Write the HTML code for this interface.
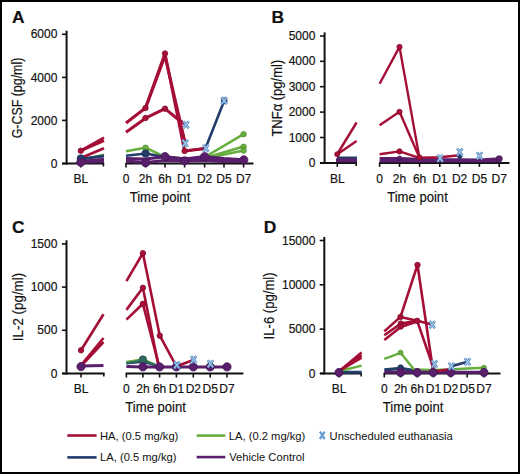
<!DOCTYPE html>
<html><head><meta charset="utf-8"><style>
html,body{margin:0;padding:0;background:#fff;}
body{width:520px;height:474px;overflow:hidden;}
svg{display:block;font-family:"Liberation Sans",sans-serif;}
text{fill:#111;stroke:#111;stroke-width:0.18px;}
</style></head><body>
<svg width="520" height="474" viewBox="0 0 520 474">
<rect x="0" y="0" width="520" height="474" fill="#fff"/>
<line x1="66.6" y1="164.5" x2="66.6" y2="30.7" stroke="#111" stroke-width="2"/>
<line x1="62" y1="163.5" x2="66.6" y2="163.5" stroke="#111" stroke-width="1.6"/>
<line x1="62" y1="120.4" x2="66.6" y2="120.4" stroke="#111" stroke-width="1.6"/>
<line x1="62" y1="77.4" x2="66.6" y2="77.4" stroke="#111" stroke-width="1.6"/>
<line x1="62" y1="34.3" x2="66.6" y2="34.3" stroke="#111" stroke-width="1.6"/>
<line x1="62" y1="163.5" x2="104.2" y2="163.5" stroke="#111" stroke-width="2"/>
<line x1="80.8" y1="163.5" x2="80.8" y2="167.5" stroke="#111" stroke-width="1.6"/>
<line x1="103.4" y1="163.5" x2="103.4" y2="166.5" stroke="#111" stroke-width="1.6"/>
<line x1="125.4" y1="163.5" x2="253.5" y2="163.5" stroke="#111" stroke-width="2"/>
<line x1="126" y1="163.5" x2="126" y2="167.5" stroke="#111" stroke-width="1.6"/>
<line x1="145.5" y1="163.5" x2="145.5" y2="167.5" stroke="#111" stroke-width="1.6"/>
<line x1="165" y1="163.5" x2="165" y2="167.5" stroke="#111" stroke-width="1.6"/>
<line x1="184.6" y1="163.5" x2="184.6" y2="167.5" stroke="#111" stroke-width="1.6"/>
<line x1="204.6" y1="163.5" x2="204.6" y2="167.5" stroke="#111" stroke-width="1.6"/>
<line x1="224" y1="163.5" x2="224" y2="167.5" stroke="#111" stroke-width="1.6"/>
<line x1="243.6" y1="163.5" x2="243.6" y2="167.5" stroke="#111" stroke-width="1.6"/>
<line x1="324.6" y1="163.9" x2="324.6" y2="32.4" stroke="#111" stroke-width="2"/>
<line x1="320" y1="162.9" x2="324.6" y2="162.9" stroke="#111" stroke-width="1.6"/>
<line x1="320" y1="137.5" x2="324.6" y2="137.5" stroke="#111" stroke-width="1.6"/>
<line x1="320" y1="112.1" x2="324.6" y2="112.1" stroke="#111" stroke-width="1.6"/>
<line x1="320" y1="86.7" x2="324.6" y2="86.7" stroke="#111" stroke-width="1.6"/>
<line x1="320" y1="61.3" x2="324.6" y2="61.3" stroke="#111" stroke-width="1.6"/>
<line x1="320" y1="36" x2="324.6" y2="36" stroke="#111" stroke-width="1.6"/>
<line x1="320" y1="162.9" x2="357" y2="162.9" stroke="#111" stroke-width="2"/>
<line x1="337.3" y1="162.9" x2="337.3" y2="166.9" stroke="#111" stroke-width="1.6"/>
<line x1="356.2" y1="162.9" x2="356.2" y2="165.9" stroke="#111" stroke-width="1.6"/>
<line x1="379" y1="162.9" x2="509.5" y2="162.9" stroke="#111" stroke-width="2"/>
<line x1="379.6" y1="162.9" x2="379.6" y2="166.9" stroke="#111" stroke-width="1.6"/>
<line x1="399.5" y1="162.9" x2="399.5" y2="166.9" stroke="#111" stroke-width="1.6"/>
<line x1="419.6" y1="162.9" x2="419.6" y2="166.9" stroke="#111" stroke-width="1.6"/>
<line x1="439.8" y1="162.9" x2="439.8" y2="166.9" stroke="#111" stroke-width="1.6"/>
<line x1="459.6" y1="162.9" x2="459.6" y2="166.9" stroke="#111" stroke-width="1.6"/>
<line x1="479.4" y1="162.9" x2="479.4" y2="166.9" stroke="#111" stroke-width="1.6"/>
<line x1="499.2" y1="162.9" x2="499.2" y2="166.9" stroke="#111" stroke-width="1.6"/>
<line x1="66.5" y1="374.5" x2="66.5" y2="240.3" stroke="#111" stroke-width="2"/>
<line x1="61.9" y1="373.5" x2="66.5" y2="373.5" stroke="#111" stroke-width="1.6"/>
<line x1="61.9" y1="330.3" x2="66.5" y2="330.3" stroke="#111" stroke-width="1.6"/>
<line x1="61.9" y1="287.1" x2="66.5" y2="287.1" stroke="#111" stroke-width="1.6"/>
<line x1="61.9" y1="243.9" x2="66.5" y2="243.9" stroke="#111" stroke-width="1.6"/>
<line x1="62" y1="373.5" x2="104.6" y2="373.5" stroke="#111" stroke-width="2"/>
<line x1="81" y1="373.5" x2="81" y2="377.5" stroke="#111" stroke-width="1.6"/>
<line x1="103.8" y1="373.5" x2="103.8" y2="376.5" stroke="#111" stroke-width="1.6"/>
<line x1="125.6" y1="373.5" x2="243.4" y2="373.5" stroke="#111" stroke-width="2"/>
<line x1="126.4" y1="373.5" x2="126.4" y2="377.5" stroke="#111" stroke-width="1.6"/>
<line x1="142.9" y1="373.5" x2="142.9" y2="377.5" stroke="#111" stroke-width="1.6"/>
<line x1="159.6" y1="373.5" x2="159.6" y2="377.5" stroke="#111" stroke-width="1.6"/>
<line x1="176.4" y1="373.5" x2="176.4" y2="377.5" stroke="#111" stroke-width="1.6"/>
<line x1="193.3" y1="373.5" x2="193.3" y2="377.5" stroke="#111" stroke-width="1.6"/>
<line x1="210.2" y1="373.5" x2="210.2" y2="377.5" stroke="#111" stroke-width="1.6"/>
<line x1="227" y1="373.5" x2="227" y2="377.5" stroke="#111" stroke-width="1.6"/>
<line x1="324.3" y1="374.4" x2="324.3" y2="236.9" stroke="#111" stroke-width="2"/>
<line x1="319.7" y1="373.4" x2="324.3" y2="373.4" stroke="#111" stroke-width="1.6"/>
<line x1="319.7" y1="329.1" x2="324.3" y2="329.1" stroke="#111" stroke-width="1.6"/>
<line x1="319.7" y1="284.8" x2="324.3" y2="284.8" stroke="#111" stroke-width="1.6"/>
<line x1="319.7" y1="240.5" x2="324.3" y2="240.5" stroke="#111" stroke-width="1.6"/>
<line x1="320" y1="373.4" x2="362" y2="373.4" stroke="#111" stroke-width="2"/>
<line x1="339" y1="373.4" x2="339" y2="377.4" stroke="#111" stroke-width="1.6"/>
<line x1="361.2" y1="373.4" x2="361.2" y2="376.4" stroke="#111" stroke-width="1.6"/>
<line x1="383.6" y1="373.4" x2="500.5" y2="373.4" stroke="#111" stroke-width="2"/>
<line x1="384.3" y1="373.4" x2="384.3" y2="377.4" stroke="#111" stroke-width="1.6"/>
<line x1="400.6" y1="373.4" x2="400.6" y2="377.4" stroke="#111" stroke-width="1.6"/>
<line x1="417.2" y1="373.4" x2="417.2" y2="377.4" stroke="#111" stroke-width="1.6"/>
<line x1="433.4" y1="373.4" x2="433.4" y2="377.4" stroke="#111" stroke-width="1.6"/>
<line x1="450.6" y1="373.4" x2="450.6" y2="377.4" stroke="#111" stroke-width="1.6"/>
<line x1="467.2" y1="373.4" x2="467.2" y2="377.4" stroke="#111" stroke-width="1.6"/>
<line x1="484" y1="373.4" x2="484" y2="377.4" stroke="#111" stroke-width="1.6"/>
<polyline points="80.8,160 104,154.6" fill="none" stroke="#66ae3e" stroke-width="2.2" stroke-linejoin="round" stroke-linecap="butt"/>
<polyline points="80.8,159 104,156" fill="none" stroke="#233c6a" stroke-width="3" stroke-linejoin="round" stroke-linecap="butt"/>
<polyline points="80.8,161.5 104,159.3" fill="none" stroke="#5a1f6c" stroke-width="3" stroke-linejoin="round" stroke-linecap="butt"/>
<polyline points="80.8,162.3 104,161.6" fill="none" stroke="#5a1f6c" stroke-width="3" stroke-linejoin="round" stroke-linecap="butt"/>
<polyline points="80.8,150.8 104,137.6" fill="none" stroke="#a50e36" stroke-width="2.8" stroke-linejoin="round" stroke-linecap="butt"/>
<polyline points="80.8,150.8 104,140.6" fill="none" stroke="#a50e36" stroke-width="2.8" stroke-linejoin="round" stroke-linecap="butt"/>
<polyline points="82,157.5 104,148.3" fill="none" stroke="#a50e36" stroke-width="2.8" stroke-linejoin="round" stroke-linecap="butt"/>
<polyline points="126,151.2 145.6,147.7 165,157 184.6,160 205,157" fill="none" stroke="#66ae3e" stroke-width="2.6" stroke-linejoin="round" stroke-linecap="butt"/>
<polyline points="205,157 243.6,134.2" fill="none" stroke="#66ae3e" stroke-width="2.6" stroke-linejoin="round" stroke-linecap="butt"/>
<polyline points="205,158 243.6,146.6" fill="none" stroke="#66ae3e" stroke-width="2.6" stroke-linejoin="round" stroke-linecap="butt"/>
<polyline points="205,158.5 243.6,150.5" fill="none" stroke="#66ae3e" stroke-width="2.6" stroke-linejoin="round" stroke-linecap="butt"/>
<polyline points="126,155.8 145.6,153.5 165,157 184.6,158.5 204.6,158" fill="none" stroke="#233c6a" stroke-width="2.6" stroke-linejoin="round" stroke-linecap="butt"/>
<polyline points="184.6,151 205.5,148.2 224.2,100.7" fill="none" stroke="#233c6a" stroke-width="2.6" stroke-linejoin="round" stroke-linecap="butt"/>
<polyline points="126,158.7 145.6,159 165,156.6 184.6,159 204.6,156.6 224,158.5 243.6,159.9" fill="none" stroke="#5a1f6c" stroke-width="3.2" stroke-linejoin="round" stroke-linecap="butt"/>
<polyline points="126,161.2 145.6,162.5 165,160.5 184.6,161 204.6,160.5 224,161.5 243.6,161.5" fill="none" stroke="#5a1f6c" stroke-width="3.2" stroke-linejoin="round" stroke-linecap="butt"/>
<polyline points="165,158.5 184.6,160 204.6,158.5 224,159.8 243.6,160.5" fill="none" stroke="#5a1f6c" stroke-width="3.2" stroke-linejoin="round" stroke-linecap="butt"/>
<polyline points="126,123 145.5,108 165,53.5 184.6,151 205.5,148.5" fill="none" stroke="#a50e36" stroke-width="3" stroke-linejoin="round" stroke-linecap="butt"/>
<polyline points="126,132.3 145.5,118.2 165,108.7 177,118.5 186,124.7" fill="none" stroke="#a50e36" stroke-width="3" stroke-linejoin="round" stroke-linecap="butt"/>
<polyline points="145.5,108 165,56 185.2,143.2" fill="none" stroke="#a50e36" stroke-width="3" stroke-linejoin="round" stroke-linecap="butt"/>
<polyline points="337,158 357,158" fill="none" stroke="#233c6a" stroke-width="3" stroke-linejoin="round" stroke-linecap="butt"/>
<polyline points="336,160.3 357,160.3" fill="none" stroke="#5a1f6c" stroke-width="4" stroke-linejoin="round" stroke-linecap="butt"/>
<polyline points="337,154.5 356.6,122.5" fill="none" stroke="#a50e36" stroke-width="2.4" stroke-linejoin="round" stroke-linecap="butt"/>
<polyline points="337,154.5 356.6,141.1" fill="none" stroke="#a50e36" stroke-width="2.4" stroke-linejoin="round" stroke-linecap="butt"/>
<polyline points="379.6,158.8 399.5,158.6 419.6,159.5 439.8,160 459.6,160 479.4,160.2 499.2,159" fill="none" stroke="#5a1f6c" stroke-width="3.4" stroke-linejoin="round" stroke-linecap="butt"/>
<polyline points="379.6,161.3 499.2,161.3" fill="none" stroke="#5a1f6c" stroke-width="2.6" stroke-linejoin="round" stroke-linecap="butt"/>
<polyline points="379.6,83.7 399.5,46.9 419.4,157.6 439.8,157.3 459.6,155.2" fill="none" stroke="#a50e36" stroke-width="2.4" stroke-linejoin="round" stroke-linecap="butt"/>
<polyline points="379.6,125.3 399.5,111.8 419.4,157.6" fill="none" stroke="#a50e36" stroke-width="2.4" stroke-linejoin="round" stroke-linecap="butt"/>
<polyline points="379.6,154.2 399.5,151.4 419.4,157.8" fill="none" stroke="#a50e36" stroke-width="2.4" stroke-linejoin="round" stroke-linecap="butt"/>
<polyline points="81,366 103.5,365.5" fill="none" stroke="#5a1f6c" stroke-width="3" stroke-linejoin="round" stroke-linecap="butt"/>
<polyline points="81,350.3 103.5,314.3" fill="none" stroke="#a50e36" stroke-width="2.6" stroke-linejoin="round" stroke-linecap="butt"/>
<polyline points="82,364 103.5,338" fill="none" stroke="#a50e36" stroke-width="2.6" stroke-linejoin="round" stroke-linecap="butt"/>
<polyline points="82,365 103.5,342" fill="none" stroke="#a50e36" stroke-width="2.6" stroke-linejoin="round" stroke-linecap="butt"/>
<polyline points="126.4,363 142.9,361.5 159.6,366.5" fill="none" stroke="#233c6a" stroke-width="2.8" stroke-linejoin="round" stroke-linecap="butt"/>
<polyline points="126.4,362 142.9,359.4 159.6,366.5" fill="none" stroke="#66ae3e" stroke-width="2.4" stroke-linejoin="round" stroke-linecap="butt"/>
<polyline points="126.4,363.2 142.9,360.5 159.6,366.5" fill="none" stroke="#2f6a62" stroke-width="2.2" stroke-linejoin="round" stroke-linecap="butt"/>
<polyline points="126.4,366.4 142.9,366.9 159.6,366.9 176.4,366.9 193.3,366.9 210.2,366.9 227,366.9" fill="none" stroke="#5a1f6c" stroke-width="3" stroke-linejoin="round" stroke-linecap="butt"/>
<polyline points="126.4,281.2 142.9,253.2 159.8,335.7 176.4,366.3 193.6,360" fill="none" stroke="#a50e36" stroke-width="2.6" stroke-linejoin="round" stroke-linecap="butt"/>
<polyline points="126.4,309.9 142.9,287.8 158.6,366.3" fill="none" stroke="#a50e36" stroke-width="2.6" stroke-linejoin="round" stroke-linecap="butt"/>
<polyline points="126.4,319.6 142.9,303.8 159.2,366.3" fill="none" stroke="#a50e36" stroke-width="2.6" stroke-linejoin="round" stroke-linecap="butt"/>
<polyline points="339,372.3 361.6,372.2" fill="none" stroke="#233c6a" stroke-width="3" stroke-linejoin="round" stroke-linecap="butt"/>
<polyline points="340,371 361.6,365.7" fill="none" stroke="#66ae3e" stroke-width="2.4" stroke-linejoin="round" stroke-linecap="butt"/>
<polyline points="340,370.5 361.6,352.6" fill="none" stroke="#a50e36" stroke-width="2.6" stroke-linejoin="round" stroke-linecap="butt"/>
<polyline points="340,370.5 361.6,355.2" fill="none" stroke="#a50e36" stroke-width="2.6" stroke-linejoin="round" stroke-linecap="butt"/>
<polyline points="340,370.5 361.6,357.6" fill="none" stroke="#a50e36" stroke-width="2.6" stroke-linejoin="round" stroke-linecap="butt"/>
<polyline points="384.3,369.8 400.6,368.4 417.2,371 433.4,371.2 450.6,371.5" fill="none" stroke="#233c6a" stroke-width="3.2" stroke-linejoin="round" stroke-linecap="butt"/>
<polyline points="451.4,366.2 467.5,361.8" fill="none" stroke="#233c6a" stroke-width="2.6" stroke-linejoin="round" stroke-linecap="butt"/>
<polyline points="384.3,358.8 400.6,352.8 414,369.5 433.4,370 450.6,369.5 467.2,368.5 484,367.7" fill="none" stroke="#66ae3e" stroke-width="2.4" stroke-linejoin="round" stroke-linecap="butt"/>
<polyline points="384.3,372.3 484,372.3" fill="none" stroke="#5a1f6c" stroke-width="3" stroke-linejoin="round" stroke-linecap="butt"/>
<polyline points="384.3,331.4 400.5,316.9 417.5,264.9 433.2,371.5 451.4,369.1" fill="none" stroke="#a50e36" stroke-width="2.6" stroke-linejoin="round" stroke-linecap="butt"/>
<polyline points="400.5,316.9 417.2,320.8 432.2,324.6" fill="none" stroke="#a50e36" stroke-width="2.6" stroke-linejoin="round" stroke-linecap="butt"/>
<polyline points="384.3,335.2 400.8,323.6 417.2,320.8 433.5,368" fill="none" stroke="#a50e36" stroke-width="2.6" stroke-linejoin="round" stroke-linecap="butt"/>
<polyline points="384.3,340 400.8,327 417.2,321.5" fill="none" stroke="#a50e36" stroke-width="2.6" stroke-linejoin="round" stroke-linecap="butt"/>
<circle cx="80.8" cy="150.8" r="2.75" fill="#ab0f38" stroke="#760826" stroke-width="0.7"/>
<circle cx="80.8" cy="158.5" r="3.75" fill="#233c6a" stroke="#182c52" stroke-width="0.7"/>
<circle cx="80.8" cy="162.3" r="4.15" fill="#5a1f6c" stroke="#3f1350" stroke-width="0.7"/>
<circle cx="145.5" cy="108" r="2.75" fill="#ab0f38" stroke="#760826" stroke-width="0.7"/>
<circle cx="145.5" cy="118" r="2.75" fill="#ab0f38" stroke="#760826" stroke-width="0.7"/>
<circle cx="165" cy="53.5" r="2.75" fill="#ab0f38" stroke="#760826" stroke-width="0.7"/>
<circle cx="165" cy="108.7" r="2.75" fill="#ab0f38" stroke="#760826" stroke-width="0.7"/>
<circle cx="184.6" cy="151" r="2.75" fill="#ab0f38" stroke="#760826" stroke-width="0.7"/>
<circle cx="145.6" cy="147.7" r="2.75" fill="#66ae3e" stroke="#4b8a2c" stroke-width="0.7"/>
<circle cx="243.6" cy="134.2" r="2.75" fill="#66ae3e" stroke="#4b8a2c" stroke-width="0.7"/>
<circle cx="243.6" cy="146.8" r="2.75" fill="#66ae3e" stroke="#4b8a2c" stroke-width="0.7"/>
<circle cx="243.6" cy="150.5" r="2.75" fill="#66ae3e" stroke="#4b8a2c" stroke-width="0.7"/>
<circle cx="145.6" cy="153.5" r="3.75" fill="#233c6a" stroke="#182c52" stroke-width="0.7"/>
<circle cx="224.2" cy="100.7" r="2.95" fill="#233c6a" stroke="#182c52" stroke-width="0.7"/>
<circle cx="145.6" cy="162.7" r="4.15" fill="#5a1f6c" stroke="#3f1350" stroke-width="0.7"/>
<circle cx="165" cy="156.6" r="4.15" fill="#5a1f6c" stroke="#3f1350" stroke-width="0.7"/>
<circle cx="184.6" cy="160.8" r="4.15" fill="#5a1f6c" stroke="#3f1350" stroke-width="0.7"/>
<circle cx="204.6" cy="156.6" r="4.15" fill="#5a1f6c" stroke="#3f1350" stroke-width="0.7"/>
<circle cx="243.8" cy="159.9" r="4.15" fill="#5a1f6c" stroke="#3f1350" stroke-width="0.7"/>
<circle cx="337.2" cy="154.2" r="2.55" fill="#ab0f38" stroke="#760826" stroke-width="0.7"/>
<circle cx="399.5" cy="46.9" r="2.65" fill="#ab0f38" stroke="#760826" stroke-width="0.7"/>
<circle cx="399.5" cy="111.8" r="2.65" fill="#ab0f38" stroke="#760826" stroke-width="0.7"/>
<circle cx="399.5" cy="151.4" r="2.65" fill="#ab0f38" stroke="#760826" stroke-width="0.7"/>
<circle cx="419.4" cy="157.4" r="2.65" fill="#ab0f38" stroke="#760826" stroke-width="0.7"/>
<circle cx="499.2" cy="158.8" r="3.15" fill="#5a1f6c" stroke="#3f1350" stroke-width="0.7"/>
<circle cx="459.8" cy="156.3" r="2.25" fill="#233c6a" stroke="#182c52" stroke-width="0.7"/>
<circle cx="399.6" cy="158.2" r="2.25" fill="#5a1f6c" stroke="#3f1350" stroke-width="0.7"/>
<circle cx="81" cy="350.3" r="2.75" fill="#ab0f38" stroke="#760826" stroke-width="0.7"/>
<circle cx="81" cy="366.6" r="4.15" fill="#5a1f6c" stroke="#3f1350" stroke-width="0.7"/>
<circle cx="142.9" cy="253.2" r="2.75" fill="#ab0f38" stroke="#760826" stroke-width="0.7"/>
<circle cx="142.9" cy="287.8" r="2.75" fill="#ab0f38" stroke="#760826" stroke-width="0.7"/>
<circle cx="142.9" cy="303.8" r="2.75" fill="#ab0f38" stroke="#760826" stroke-width="0.7"/>
<circle cx="159.8" cy="335.7" r="2.75" fill="#ab0f38" stroke="#760826" stroke-width="0.7"/>
<circle cx="142.9" cy="359.6" r="3.75" fill="#2f6a62" stroke="#1f4d46" stroke-width="0.7"/>
<circle cx="142.9" cy="366.9" r="4.15" fill="#5a1f6c" stroke="#3f1350" stroke-width="0.7"/>
<circle cx="159.6" cy="366.9" r="4.15" fill="#5a1f6c" stroke="#3f1350" stroke-width="0.7"/>
<circle cx="176.4" cy="366.9" r="4.15" fill="#5a1f6c" stroke="#3f1350" stroke-width="0.7"/>
<circle cx="193.3" cy="366.9" r="4.15" fill="#5a1f6c" stroke="#3f1350" stroke-width="0.7"/>
<circle cx="210.2" cy="366.9" r="4.15" fill="#5a1f6c" stroke="#3f1350" stroke-width="0.7"/>
<circle cx="227" cy="366.9" r="4.15" fill="#5a1f6c" stroke="#3f1350" stroke-width="0.7"/>
<circle cx="339" cy="372.5" r="4.15" fill="#5a1f6c" stroke="#3f1350" stroke-width="0.7"/>
<circle cx="400.5" cy="316.9" r="2.75" fill="#ab0f38" stroke="#760826" stroke-width="0.7"/>
<circle cx="400.8" cy="323.6" r="2.75" fill="#ab0f38" stroke="#760826" stroke-width="0.7"/>
<circle cx="400.8" cy="326.5" r="2.75" fill="#ab0f38" stroke="#760826" stroke-width="0.7"/>
<circle cx="417.5" cy="264.9" r="2.75" fill="#ab0f38" stroke="#760826" stroke-width="0.7"/>
<circle cx="417.2" cy="320.8" r="2.75" fill="#ab0f38" stroke="#760826" stroke-width="0.7"/>
<circle cx="400.6" cy="352.6" r="2.45" fill="#66ae3e" stroke="#4b8a2c" stroke-width="0.7"/>
<circle cx="484" cy="367.7" r="2.45" fill="#66ae3e" stroke="#4b8a2c" stroke-width="0.7"/>
<circle cx="400.6" cy="367.6" r="2.85" fill="#233c6a" stroke="#182c52" stroke-width="0.7"/>
<circle cx="400.6" cy="372.5" r="4.15" fill="#5a1f6c" stroke="#3f1350" stroke-width="0.7"/>
<circle cx="417.2" cy="372.5" r="4.15" fill="#5a1f6c" stroke="#3f1350" stroke-width="0.7"/>
<circle cx="433.2" cy="372.5" r="4.15" fill="#5a1f6c" stroke="#3f1350" stroke-width="0.7"/>
<circle cx="450.8" cy="372.5" r="4.15" fill="#5a1f6c" stroke="#3f1350" stroke-width="0.7"/>
<circle cx="484" cy="372.5" r="4.15" fill="#5a1f6c" stroke="#3f1350" stroke-width="0.7"/>
<path d="M183.3,121.2L188.7,128.2M188.7,121.2L183.3,128.2" stroke="#5587bc" stroke-width="2.7" fill="none"/><path d="M183.3,121.2L188.7,128.2M188.7,121.2L183.3,128.2" stroke="#a2c9ea" stroke-width="1.1" fill="none"/>
<path d="M182.5,139.7L187.9,146.7M187.9,139.7L182.5,146.7" stroke="#5587bc" stroke-width="2.7" fill="none"/><path d="M182.5,139.7L187.9,146.7M187.9,139.7L182.5,146.7" stroke="#a2c9ea" stroke-width="1.1" fill="none"/>
<path d="M203.1,144.7L208.5,151.7M208.5,144.7L203.1,151.7" stroke="#5587bc" stroke-width="2.7" fill="none"/><path d="M203.1,144.7L208.5,151.7M208.5,144.7L203.1,151.7" stroke="#a2c9ea" stroke-width="1.1" fill="none"/>
<path d="M221.5,97.1L226.9,104.1M226.9,97.1L221.5,104.1" stroke="#5587bc" stroke-width="2.7" fill="none"/><path d="M221.5,97.1L226.9,104.1M226.9,97.1L221.5,104.1" stroke="#a2c9ea" stroke-width="1.1" fill="none"/>
<path d="M437.4,154.8L442.8,161.8M442.8,154.8L437.4,161.8" stroke="#5587bc" stroke-width="2.7" fill="none"/><path d="M437.4,154.8L442.8,161.8M442.8,154.8L437.4,161.8" stroke="#a2c9ea" stroke-width="1.1" fill="none"/>
<path d="M457.1,148.5L462.5,155.5M462.5,148.5L457.1,155.5" stroke="#5587bc" stroke-width="2.7" fill="none"/><path d="M457.1,148.5L462.5,155.5M462.5,148.5L457.1,155.5" stroke="#a2c9ea" stroke-width="1.1" fill="none"/>
<path d="M476.9,152.3L482.3,159.3M482.3,152.3L476.9,159.3" stroke="#5587bc" stroke-width="2.7" fill="none"/><path d="M476.9,152.3L482.3,159.3M482.3,152.3L476.9,159.3" stroke="#a2c9ea" stroke-width="1.1" fill="none"/>
<path d="M174.2,361.5L179.6,368.5M179.6,361.5L174.2,368.5" stroke="#5587bc" stroke-width="2.7" fill="none"/><path d="M174.2,361.5L179.6,368.5M179.6,361.5L174.2,368.5" stroke="#a2c9ea" stroke-width="1.1" fill="none"/>
<path d="M190.9,356.1L196.3,363.1M196.3,356.1L190.9,363.1" stroke="#5587bc" stroke-width="2.7" fill="none"/><path d="M190.9,356.1L196.3,363.1M196.3,356.1L190.9,363.1" stroke="#a2c9ea" stroke-width="1.1" fill="none"/>
<path d="M207.8,360.3L213.2,367.3M213.2,360.3L207.8,367.3" stroke="#5587bc" stroke-width="2.7" fill="none"/><path d="M207.8,360.3L213.2,367.3M213.2,360.3L207.8,367.3" stroke="#a2c9ea" stroke-width="1.1" fill="none"/>
<path d="M429.5,321.1L434.9,328.1M434.9,321.1L429.5,328.1" stroke="#5587bc" stroke-width="2.7" fill="none"/><path d="M429.5,321.1L434.9,328.1M434.9,321.1L429.5,328.1" stroke="#a2c9ea" stroke-width="1.1" fill="none"/>
<path d="M431.7,360.5L437.1,367.5M437.1,360.5L431.7,367.5" stroke="#5587bc" stroke-width="2.7" fill="none"/><path d="M431.7,360.5L437.1,367.5M437.1,360.5L431.7,367.5" stroke="#a2c9ea" stroke-width="1.1" fill="none"/>
<path d="M448.7,362.7L454.1,369.7M454.1,362.7L448.7,369.7" stroke="#5587bc" stroke-width="2.7" fill="none"/><path d="M448.7,362.7L454.1,369.7M454.1,362.7L448.7,369.7" stroke="#a2c9ea" stroke-width="1.1" fill="none"/>
<path d="M464.8,358.3L470.2,365.3M470.2,358.3L464.8,365.3" stroke="#5587bc" stroke-width="2.7" fill="none"/><path d="M464.8,358.3L470.2,365.3M470.2,358.3L464.8,365.3" stroke="#a2c9ea" stroke-width="1.1" fill="none"/>
<text x="57.4" y="167.6" font-size="12" text-anchor="end" font-weight="normal" >0</text>
<text x="57.4" y="124.5" font-size="12" text-anchor="end" font-weight="normal" >2000</text>
<text x="57.4" y="81.5" font-size="12" text-anchor="end" font-weight="normal" >4000</text>
<text x="57.4" y="38.4" font-size="12" text-anchor="end" font-weight="normal" >6000</text>
<text x="80.8" y="182.7" font-size="12" text-anchor="middle" font-weight="normal" >BL</text>
<text x="126" y="182.7" font-size="12" text-anchor="middle" font-weight="normal" >0</text>
<text x="145.5" y="182.7" font-size="12" text-anchor="middle" font-weight="normal" >2h</text>
<text x="165" y="182.7" font-size="12" text-anchor="middle" font-weight="normal" >6h</text>
<text x="184.6" y="182.7" font-size="12" text-anchor="middle" font-weight="normal" >D1</text>
<text x="204.6" y="182.7" font-size="12" text-anchor="middle" font-weight="normal" >D2</text>
<text x="224" y="182.7" font-size="12" text-anchor="middle" font-weight="normal" >D5</text>
<text x="243.6" y="182.7" font-size="12" text-anchor="middle" font-weight="normal" >D7</text>
<text x="160" y="202.1" font-size="14.5" text-anchor="middle" font-weight="normal" textLength="60.6" lengthAdjust="spacingAndGlyphs">Time point</text>
<text x="0" y="0" font-size="14.8" text-anchor="middle" font-weight="normal" textLength="80.6" lengthAdjust="spacingAndGlyphs" transform="translate(22.4,98.0) rotate(-90)">G-CSF (pg/ml)</text>
<text x="18.35" y="23.2" font-size="17.4" text-anchor="middle" font-weight="bold" >A</text>
<text x="315.4" y="167" font-size="12" text-anchor="end" font-weight="normal" >0</text>
<text x="315.4" y="141.6" font-size="12" text-anchor="end" font-weight="normal" >1000</text>
<text x="315.4" y="116.2" font-size="12" text-anchor="end" font-weight="normal" >2000</text>
<text x="315.4" y="90.8" font-size="12" text-anchor="end" font-weight="normal" >3000</text>
<text x="315.4" y="65.4" font-size="12" text-anchor="end" font-weight="normal" >4000</text>
<text x="315.4" y="40.1" font-size="12" text-anchor="end" font-weight="normal" >5000</text>
<text x="337.3" y="182.7" font-size="12" text-anchor="middle" font-weight="normal" >BL</text>
<text x="379.6" y="182.7" font-size="12" text-anchor="middle" font-weight="normal" >0</text>
<text x="399.5" y="182.7" font-size="12" text-anchor="middle" font-weight="normal" >2h</text>
<text x="419.6" y="182.7" font-size="12" text-anchor="middle" font-weight="normal" >6h</text>
<text x="439.8" y="182.7" font-size="12" text-anchor="middle" font-weight="normal" >D1</text>
<text x="459.6" y="182.7" font-size="12" text-anchor="middle" font-weight="normal" >D2</text>
<text x="479.4" y="182.7" font-size="12" text-anchor="middle" font-weight="normal" >D5</text>
<text x="499.2" y="182.7" font-size="12" text-anchor="middle" font-weight="normal" >D7</text>
<text x="417.5" y="202.1" font-size="14.5" text-anchor="middle" font-weight="normal" textLength="60.6" lengthAdjust="spacingAndGlyphs">Time point</text>
<text x="0" y="0" font-size="14.8" text-anchor="middle" font-weight="normal" textLength="76.8" lengthAdjust="spacingAndGlyphs" transform="translate(281.6,98.2) rotate(-90)">TNF&#945; (pg/ml)</text>
<text x="277.8" y="23.2" font-size="17.4" text-anchor="middle" font-weight="bold" >B</text>
<text x="57.4" y="377.6" font-size="12" text-anchor="end" font-weight="normal" >0</text>
<text x="57.4" y="334.4" font-size="12" text-anchor="end" font-weight="normal" >500</text>
<text x="57.4" y="291.2" font-size="12" text-anchor="end" font-weight="normal" >1000</text>
<text x="57.4" y="248" font-size="12" text-anchor="end" font-weight="normal" >1500</text>
<text x="81" y="393" font-size="12" text-anchor="middle" font-weight="normal" >BL</text>
<text x="126.4" y="393" font-size="12" text-anchor="middle" font-weight="normal" >0</text>
<text x="142.9" y="393" font-size="12" text-anchor="middle" font-weight="normal" >2h</text>
<text x="159.6" y="393" font-size="12" text-anchor="middle" font-weight="normal" >6h</text>
<text x="176.4" y="393" font-size="12" text-anchor="middle" font-weight="normal" >D1</text>
<text x="193.3" y="393" font-size="12" text-anchor="middle" font-weight="normal" >D2</text>
<text x="210.2" y="393" font-size="12" text-anchor="middle" font-weight="normal" >D5</text>
<text x="227" y="393" font-size="12" text-anchor="middle" font-weight="normal" >D7</text>
<text x="155.65" y="411.8" font-size="14.5" text-anchor="middle" font-weight="normal" textLength="60.6" lengthAdjust="spacingAndGlyphs">Time point</text>
<text x="0" y="0" font-size="14.8" text-anchor="middle" font-weight="normal" textLength="68.3" lengthAdjust="spacingAndGlyphs" transform="translate(22.6,307.0) rotate(-90)">IL-2 (pg/ml)</text>
<text x="18.4" y="232.8" font-size="17.4" text-anchor="middle" font-weight="bold" >C</text>
<text x="315.4" y="377.5" font-size="12" text-anchor="end" font-weight="normal" >0</text>
<text x="315.4" y="333.2" font-size="12" text-anchor="end" font-weight="normal" >5000</text>
<text x="315.4" y="288.9" font-size="12" text-anchor="end" font-weight="normal" >10000</text>
<text x="315.4" y="244.6" font-size="12" text-anchor="end" font-weight="normal" >15000</text>
<text x="339" y="393" font-size="12" text-anchor="middle" font-weight="normal" >BL</text>
<text x="384.3" y="393" font-size="12" text-anchor="middle" font-weight="normal" >0</text>
<text x="400.6" y="393" font-size="12" text-anchor="middle" font-weight="normal" >2h</text>
<text x="417.2" y="393" font-size="12" text-anchor="middle" font-weight="normal" >6h</text>
<text x="433.4" y="393" font-size="12" text-anchor="middle" font-weight="normal" >D1</text>
<text x="450.6" y="393" font-size="12" text-anchor="middle" font-weight="normal" >D2</text>
<text x="467.2" y="393" font-size="12" text-anchor="middle" font-weight="normal" >D5</text>
<text x="484" y="393" font-size="12" text-anchor="middle" font-weight="normal" >D7</text>
<text x="413.15" y="411.8" font-size="14.5" text-anchor="middle" font-weight="normal" textLength="60.6" lengthAdjust="spacingAndGlyphs">Time point</text>
<text x="0" y="0" font-size="14.8" text-anchor="middle" font-weight="normal" textLength="67" lengthAdjust="spacingAndGlyphs" transform="translate(273.5,305.9) rotate(-90)">IL-6 (pg/ml)</text>
<text x="270.1" y="233" font-size="17.4" text-anchor="middle" font-weight="bold" >D</text>
<line x1="67.3" y1="435.5" x2="96.6" y2="435.5" stroke="#a50e36" stroke-width="2.6"/>
<text x="100" y="439.5" font-size="11.2" text-anchor="start" font-weight="normal" style="stroke:none">HA, (0.5 mg/kg)</text>
<line x1="67.3" y1="457.4" x2="96.6" y2="457.4" stroke="#233c6a" stroke-width="2.6"/>
<text x="100" y="461.2" font-size="11.2" text-anchor="start" font-weight="normal" style="stroke:none">LA, (0.5 mg/kg)</text>
<line x1="196.7" y1="435.6" x2="225.3" y2="435.6" stroke="#66ae3e" stroke-width="2.6"/>
<text x="228.8" y="439.5" font-size="11.2" text-anchor="start" font-weight="normal" style="stroke:none">LA, (0.2 mg/kg)</text>
<line x1="196.7" y1="457.1" x2="225.3" y2="457.1" stroke="#5a1f6c" stroke-width="2.6"/>
<text x="229.2" y="461.2" font-size="11.2" text-anchor="start" font-weight="normal" style="stroke:none">Vehicle Control</text>
<path d="M319.9,431.6L324.7,439M324.7,431.6L319.9,439" stroke="#6a9fd2" stroke-width="2.3" fill="none"/>
<text x="329.6" y="439.5" font-size="11.2" text-anchor="start" font-weight="normal" style="stroke:none">Unscheduled euthanasia</text>
<rect x="1" y="1" width="518" height="472" fill="none" stroke="#000" stroke-width="2"/>
</svg>
</body></html>
